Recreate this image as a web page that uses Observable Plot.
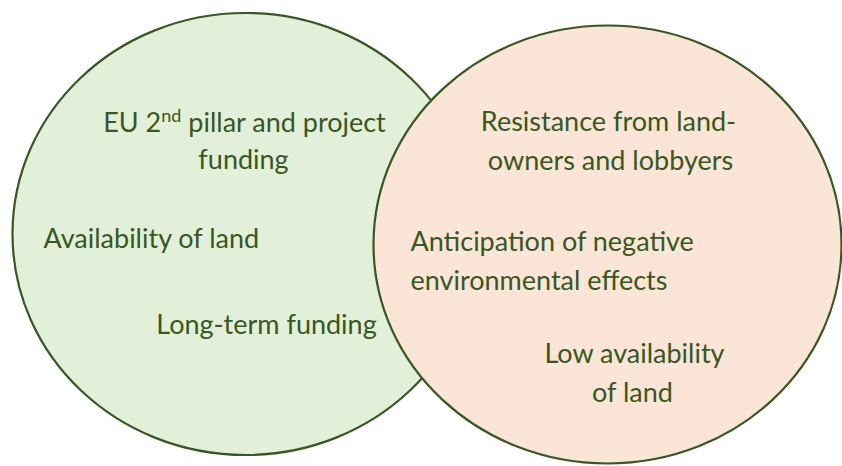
<!DOCTYPE html>
<html>
<head>
<meta charset="utf-8">
<script src="https://cdn.jsdelivr.net/npm/d3@7"></script>
<script src="https://cdn.jsdelivr.net/npm/@observablehq/plot@0.6"></script>
<style>
  html, body { margin: 0; padding: 0; background: #ffffff; overflow: hidden; }
  #chart svg { display: block; }
</style>
</head>
<body>
<div id="chart"></div>
<script>
// Venn sets (pixel-space data coordinates)
const setNames = ["enablers", "barriers"];
const setCx = [245, 607];
const setCy = [233.5, 244];
const setRx = [233, 234];
const setRy = [221, 219];

// Text lines inside the sets
const labelText = [
  "EU 2nd pillar and project", "funding",
  "Availability of land",
  "Long-term funding",
  "Resistance from land-", "owners and lobbyers",
  "Anticipation of negative", "environmental effects",
  "Low availability", "of land"
];
const labelX = [244, 243, 43, 266, 608, 610, 410, 410, 634, 632];
const labelY = [131, 168, 247, 333, 130, 169, 250, 289, 362, 401];
const labelAlign = ["middle", "middle", "start", "middle", "middle", "middle", "start", "start", "middle", "middle"];

const W = 842, H = 466;
const FONT = 27;
const TEXT_COLOR = "#385723";
const fills = {enablers: "#E2F0D9", barriers: "#FBE5D6"};

const sets = setNames.map((name, i) => ({name, cx: setCx[i], cy: setCy[i], rx: setRx[i], ry: setRy[i]}));
const labels = labelText.map((text, i) => ({text, x: labelX[i], y: labelY[i], align: labelAlign[i]}));

// ellipse symbol: size = pi * r^2, r taken as the horizontal radius
function ellipseSymbol(aspect) {
  const k = 0.5522847498;
  return {
    draw(ctx, size) {
      const rx = Math.sqrt(size / Math.PI), ry = rx * aspect;
      ctx.moveTo(rx, 0);
      ctx.bezierCurveTo(rx, ry * k, rx * k, ry, 0, ry);
      ctx.bezierCurveTo(-rx * k, ry, -rx, ry * k, -rx, 0);
      ctx.bezierCurveTo(-rx, -ry * k, -rx * k, -ry, 0, -ry);
      ctx.bezierCurveTo(rx * k, -ry, rx, -ry * k, rx, 0);
      ctx.closePath();
    }
  };
}

function superscriptOrdinals(index, scales, values, dims, ctx, next) {
  const g = next(index, scales, values, dims, ctx);
  d3.select(g).selectAll("text").each(function () {
    const t = this.textContent;
    const m = t.match(/^(.*?\d)(nd|st|rd|th)(\s.*)$/);
    if (!m) return;
    const s = d3.select(this);
    s.text(null);
    const shift = Math.round(FONT * 0.36);
    s.append("tspan").text(m[1]);
    s.append("tspan").attr("dy", -shift).attr("font-size", Math.round(FONT * 0.65)).text(m[2]);
    s.append("tspan").attr("dy", shift).text(m[3]);
  });
  return g;
}

const marks = [];
sets.forEach((s) => {
  marks.push(Plot.dot([s], {
    x: "cx", y: "cy", r: "rx",
    symbol: ellipseSymbol(s.ry / s.rx),
    fill: fills[s.name],
    stroke: "#385723",
    strokeWidth: 2.2
  }));
});
["middle", "start"].forEach((anchor) => {
  marks.push(Plot.text(labels.filter((d) => d.align === anchor), {
    x: "x", y: "y", text: "text",
    textAnchor: anchor,
    lineAnchor: "bottom",
    fontSize: FONT,
    fontFamily: "Lato",
    fill: TEXT_COLOR,
    render: superscriptOrdinals
  }));
});

const chart = Plot.plot({
  width: W,
  height: H,
  margin: 0,
  style: {background: "#ffffff"},
  x: {domain: [0, W], range: [0, W], axis: null},
  y: {domain: [0, H], range: [0, H], axis: null},
  r: {type: "identity"},
  marks
});
document.getElementById("chart").appendChild(chart);
</script>
</body>
</html>
